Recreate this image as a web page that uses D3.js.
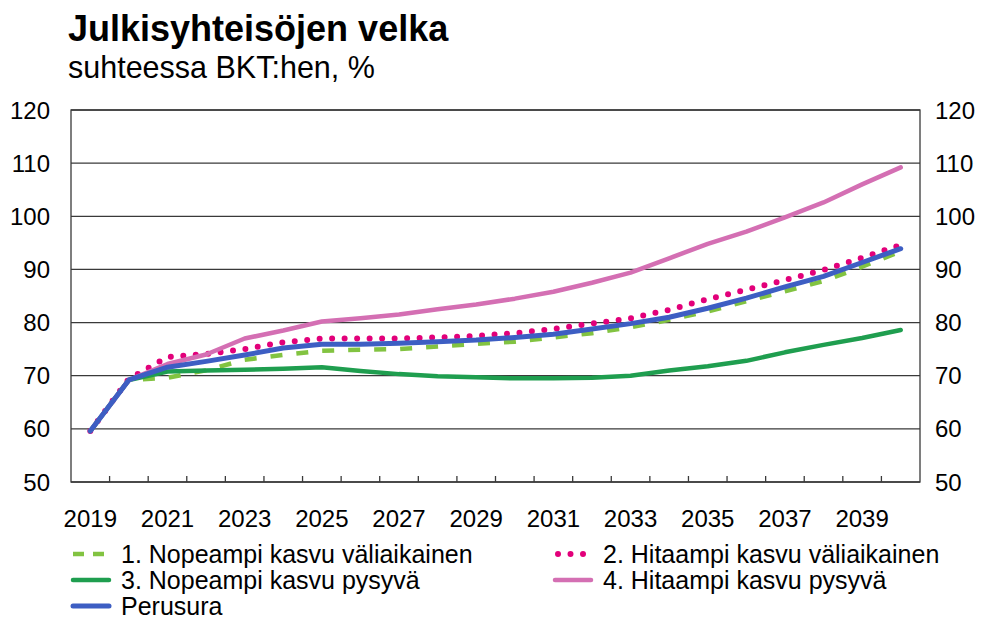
<!DOCTYPE html>
<html>
<head>
<meta charset="utf-8">
<script src="https://cdn.jsdelivr.net/npm/d3@7"></script>
<style>
  body { margin: 0; background: #fff; }
  text { font-family: "Liberation Sans", Arial, sans-serif; fill: #000; }
</style>
</head>
<body>
<div id="chart"></div>
<script>
/* Julkisyhteisöjen velka, suhteessa BKT:hen */

const years = d3.range(2019, 2041);
const tickYears = [2019, 2021, 2023, 2025, 2027, 2029, 2031, 2033, 2035, 2037, 2039];
const yTicks = [50, 60, 70, 80, 90, 100, 110, 120];

const perusura = [59.6, 69.2, 71.6, 72.7, 73.9, 75.2, 75.9, 75.9, 76.1, 76.4, 76.7, 77.2, 77.8, 78.8, 79.8, 81.0, 82.7, 84.6, 86.7, 88.7, 91.3, 93.9];
const nopeaValiaik = [59.6, 69.2, 69.6, 71.0, 73.0, 73.9, 74.7, 74.9, 75.0, 75.5, 76.0, 76.4, 77.2, 78.0, 79.1, 80.5, 82.1, 84.0, 85.9, 87.8, 90.5, 93.4];
const hidasValiaik = [59.6, 69.4, 73.5, 74.1, 75.0, 76.3, 77.0, 77.0, 77.0, 77.2, 77.5, 78.0, 78.8, 79.8, 80.8, 82.4, 84.4, 86.2, 88.0, 89.9, 92.2, 94.6];
const nopeaPysyva = [59.6, 69.2, 70.8, 71.0, 71.1, 71.3, 71.6, 70.9, 70.3, 69.9, 69.7, 69.5, 69.5, 69.6, 70.0, 71.0, 71.8, 72.8, 74.4, 75.8, 77.1, 78.6];
const hidasPysyva = [59.6, 69.2, 72.2, 74.0, 77.0, 78.5, 80.2, 80.8, 81.5, 82.5, 83.4, 84.5, 85.8, 87.5, 89.4, 92.1, 94.8, 97.1, 99.8, 102.6, 106.0, 109.2];

const series = [
  { name: "1. Nopeampi kasvu väliaikainen", values: nopeaValiaik, color: "#82c341", dash: "12 14", cap: "butt", w: 4.5 },
  { name: "2. Hitaampi kasvu väliaikainen", values: hidasValiaik, color: "#e2007a", dash: "0 12.5", cap: "round", w: 6 },
  { name: "3. Nopeampi kasvu pysyvä", values: nopeaPysyva, color: "#1f9e4f", dash: null, cap: "round", w: 4.5 },
  { name: "4. Hitaampi kasvu pysyvä", values: hidasPysyva, color: "#d46fb3", dash: null, cap: "round", w: 4.5 },
  { name: "Perusura", values: perusura, color: "#3d5ec3", dash: null, cap: "round", w: 5 }
];

const width = 986, height = 620,
  margin = ({ top: 110, right: 66, bottom: 138, left: 71 });

const svg = d3.select("#chart")
  .append("svg")
  .attr("width", width)
  .attr("height", height);

const x = d3.scaleBand()
  .domain(years)
  .range([margin.left, width - margin.right])
  .padding(0);

const y = d3.scaleLinear()
  .domain([50, 120])
  .range([height - margin.bottom, margin.top]);

const cx = d => x(d) + x.bandwidth() / 2;

// title
svg.append("text")
  .attr("x", 68).attr("y", 41)
  .attr("font-size", 36).attr("font-weight", "bold")
  .text("Julkisyhteisöjen velka");

svg.append("text")
  .attr("x", 68).attr("y", 78)
  .attr("font-size", 30.5)
  .text("suhteessa BKT:hen, %");

// gridlines
svg.append("g")
  .selectAll("line")
  .data(yTicks)
  .join("line")
  .attr("x1", margin.left).attr("x2", width - margin.right)
  .attr("y1", d => y(d)).attr("y2", d => y(d))
  .attr("stroke", "#3a3a3a")
  .attr("stroke-width", 1.3);

// frame
svg.append("rect")
  .attr("x", margin.left).attr("y", y(120))
  .attr("width", width - margin.left - margin.right)
  .attr("height", y(50) - y(120))
  .attr("fill", "none")
  .attr("stroke", "#3a3a3a")
  .attr("stroke-width", 1.3);

// y labels left and right
svg.append("g")
  .selectAll("text")
  .data(yTicks)
  .join("text")
  .attr("x", 50)
  .attr("y", d => y(d) + 8.5)
  .attr("text-anchor", "end")
  .attr("font-size", 24)
  .text(d => d);

svg.append("g")
  .selectAll("text")
  .data(yTicks)
  .join("text")
  .attr("x", 935)
  .attr("y", d => y(d) + 8.5)
  .attr("text-anchor", "start")
  .attr("font-size", 24)
  .text(d => d);

// x axis ticks between years, pointing up
svg.append("g")
  .selectAll("line")
  .data(years.slice(1))
  .join("line")
  .attr("x1", d => x(d)).attr("x2", d => x(d))
  .attr("y1", y(50)).attr("y2", y(50) - 6)
  .attr("stroke", "#3a3a3a")
  .attr("stroke-width", 1.3);

svg.append("g")
  .selectAll("text")
  .data(tickYears)
  .join("text")
  .attr("x", d => cx(d))
  .attr("y", 527)
  .attr("text-anchor", "middle")
  .attr("font-size", 24)
  .text(d => d);

// lines
const line = d3.line()
  .x((d, i) => cx(years[i]))
  .y(d => y(d));

svg.append("g")
  .selectAll("path")
  .data(series)
  .join("path")
  .attr("d", d => line(d.values))
  .attr("fill", "none")
  .attr("stroke", d => d.color)
  .attr("stroke-width", d => d.w)
  .attr("stroke-linecap", d => d.cap)
  .attr("stroke-linejoin", "round")
  .attr("stroke-dasharray", d => d.dash);

// legend
const legendPos = [
  { x: 73, y: 554 }, { x: 555, y: 554 },
  { x: 73, y: 580 }, { x: 555, y: 580 },
  { x: 73, y: 606 }
];

const lg = svg.append("g")
  .selectAll("g")
  .data(series)
  .join("g")
  .attr("transform", (d, i) => `translate(${legendPos[i].x},${legendPos[i].y})`);

lg.append("line")
  .attr("x1", d => d.cap === "round" && d.dash ? 3 : 0)
  .attr("x2", d => d.dash && d.cap === "butt" ? 31 : 36)
  .attr("y1", 0).attr("y2", 0)
  .attr("stroke", d => d.color)
  .attr("stroke-width", d => d.w)
  .attr("stroke-linecap", d => d.dash ? d.cap : "round")
  .attr("stroke-dasharray", d => d.dash ? (d.cap === "round" ? "0 12.5" : "11 9") : null);

lg.append("text")
  .attr("x", 48)
  .attr("y", 8.5)
  .attr("font-size", 25)
  .text(d => d.name);
</script>
</body>
</html>
